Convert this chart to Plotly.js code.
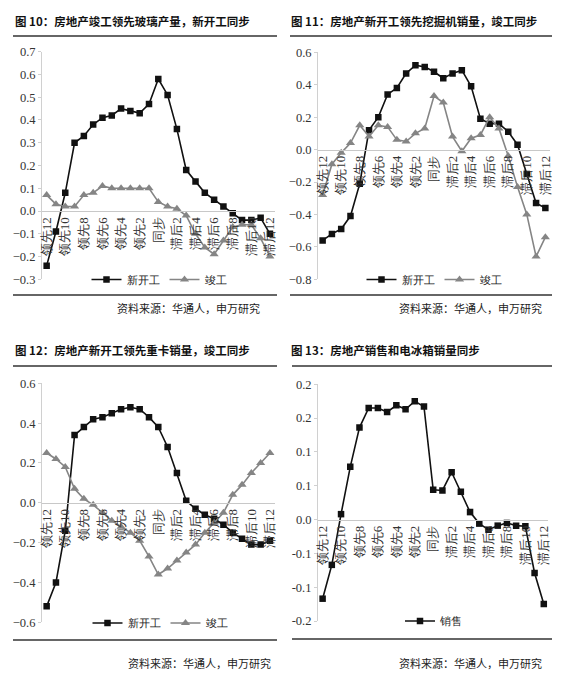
<!DOCTYPE html>
<html>
<head>
<meta charset="utf-8">
<script src="https://cdn.plot.ly/plotly-3.0.1.min.js"></script>
<style>html,body{margin:0;padding:0;background:#fff;}#chart{width:563px;height:686px;}</style>
</head>
<body>
<div id="chart"></div>
<script>
// ---------- data ----------
const categories = ['领先12','领先11','领先10','领先9','领先8','领先7','领先6','领先5','领先4','领先3','领先2','领先1',
  '同步','滞后1','滞后2','滞后3','滞后4','滞后5','滞后6','滞后7','滞后8','滞后9','滞后10','滞后11','滞后12'];

const titles = [
  '图 10：房地产竣工领先玻璃产量，新开工同步',
  '图 11：房地产新开工领先挖掘机销量，竣工同步',
  '图 12：房地产新开工领先重卡销量，竣工同步',
  '图 13：房地产销售和电冰箱销量同步'
];
const sourceText = '资料来源：华通人，申万研究';
const seriesNames = ['新开工', '竣工', '销售'];

// 图10
const glassStart = [-0.24,-0.09,0.08,0.30,0.33,0.38,0.41,0.42,0.45,0.44,0.43,0.47,0.58,0.51,0.36,0.18,0.13,0.08,0.05,0.02,-0.01,-0.04,-0.04,-0.03,-0.10];
const glassDone  = [0.07,0.03,0.02,0.02,0.07,0.08,0.11,0.10,0.10,0.10,0.10,0.10,0.04,0.02,0.01,-0.02,-0.10,-0.16,-0.19,-0.13,-0.07,-0.06,-0.06,-0.12,-0.20];
// 图11
const excStart = [-0.56,-0.52,-0.49,-0.41,-0.21,0.12,0.20,0.34,0.38,0.47,0.52,0.51,0.48,0.44,0.47,0.49,0.39,0.19,0.16,0.16,0.11,0.03,-0.15,-0.33,-0.36];
const excDone  = [-0.28,-0.09,-0.02,0.04,0.15,0.08,0.15,0.14,0.06,0.05,0.10,0.13,0.33,0.29,0.08,-0.01,0.07,0.09,0.20,0.13,-0.04,-0.23,-0.40,-0.66,-0.54];
// 图12
const truckStart = [-0.52,-0.40,-0.14,0.34,0.38,0.42,0.43,0.45,0.47,0.48,0.47,0.43,0.38,0.28,0.15,0.01,-0.03,-0.06,-0.08,-0.11,-0.15,-0.18,-0.21,-0.21,-0.19];
const truckDone  = [0.25,0.22,0.18,0.07,0.02,-0.01,-0.05,-0.09,-0.12,-0.15,-0.19,-0.27,-0.36,-0.33,-0.29,-0.25,-0.21,-0.15,-0.10,-0.05,0.04,0.09,0.15,0.20,0.25];
// 图13
const fridgeSales = [-0.117,-0.067,0.008,0.078,0.136,0.165,0.165,0.159,0.169,0.163,0.175,0.167,0.044,0.043,0.070,0.041,0.011,-0.006,-0.015,-0.009,-0.005,-0.009,-0.010,-0.079,-0.125];

// y tick labels of 图13 as printed
const p4TickVals = [-0.15,-0.10,-0.05,0,0.05,0.10,0.15,0.20];
const p4TickText = ['-0.2','-0.1','-0.1','0.0','0.1','0.1','0.2','0.2'];

// ---------- layout helpers ----------
const W = 563, H = 686;
const px = v => v / W;
const py = v => 1 - v / H;

const panels = [
  {xd:[42,274.6], yd:[279.3,51.7], range:[-0.3,0.7], dtick:0.1, legend:[159,279.5], title:[13,20.5], top:[13,277,36], bot:[13,277,295], src:[262,308]},
  {xd:[318,550],  yd:[279.3,52.3], range:[-0.8,0.6], dtick:0.2, legend:[434,279.5], title:[289,20.5], top:[290,552,36], bot:[290,552,295], src:[544,308]},
  {xd:[42,274.6], yd:[622.3,383.3], range:[-0.6,0.6], dtick:0.2, legend:[160,623], title:[13,350], top:[13,277,366], bot:[13,277,640], src:[273,663]},
  {xd:[318,548.4], yd:[621,384.3], range:[-0.15,0.2], dtick:null, legend:[434,621], title:[289,350], top:[292,552,366], bot:[292,552,639], src:[544,663]}
];

const serif = 'Liberation Serif';
const cjk = 'Noto Sans CJK SC';

const layout = {
  width: W, height: H,
  margin: {l:0, r:0, t:0, b:0},
  paper_bgcolor: '#fff', plot_bgcolor: 'rgba(0,0,0,0)',
  showlegend: true,
  annotations: [], shapes: []
};

panels.forEach((p, i) => {
  const n = i === 0 ? '' : String(i + 1);
  const xdom = [px(p.xd[0]), px(p.xd[1])];
  const ydom = [py(p.yd[0]), py(p.yd[1])];
  const zeroPos = ydom[0] + (0 - p.range[0]) / (p.range[1] - p.range[0]) * (ydom[1] - ydom[0]);
  layout['xaxis' + n] = {
    type: 'category', domain: xdom, anchor: 'free', position: zeroPos,
    range: [-0.5, 24.5], tickmode: 'linear', tick0: 0, dtick: 2,
    tickangle: -90, showline: true, linecolor: '#c8c8c8', linewidth: 1,
    showgrid: false, zeroline: false, ticks: '',
    tickfont: {family: serif, size: 13, color: '#333'}
  };
  const ya = {
    domain: ydom, anchor: 'x' + n, range: p.range,
    showline: true, linecolor: '#d0d0d0', linewidth: 1,
    showgrid: false, zeroline: false, ticks: 'outside', ticklen: 3, tickcolor: '#d0d0d0',
    tickfont: {family: serif, size: 12.5, color: '#333'}
  };
  if (p.dtick) { ya.tickmode = 'linear'; ya.tick0 = 0; ya.dtick = p.dtick; ya.tickformat = '.1f'; }
  else { ya.tickmode = 'array'; ya.tickvals = p4TickVals; ya.ticktext = p4TickText; }
  layout['yaxis' + n] = ya;

  layout['legend' + n] = {
    x: px(p.legend[0]), y: py(p.legend[1]), xanchor: 'center', yanchor: 'middle',
    orientation: 'h', bgcolor: 'rgba(0,0,0,0)', itemwidth: 30,
    font: {family: serif, size: 11, color: '#222'}, tracegroupgap: 0
  };

  layout.annotations.push({
    xref: 'paper', yref: 'paper', x: px(p.title[0]), y: py(p.title[1]),
    xanchor: 'left', yanchor: 'middle', showarrow: false, text: '<b>' + titles[i] + '</b>',
    font: {family: cjk, size: 11.5, color: '#111'}
  });
  layout.annotations.push({
    xref: 'paper', yref: 'paper', x: px(p.src[0]), y: py(p.src[1]),
    xanchor: 'right', yanchor: 'middle', showarrow: false, text: sourceText,
    font: {family: cjk, size: 11, color: '#222'}
  });
  [p.top, p.bot].forEach(l => layout.shapes.push({
    type: 'line', xref: 'paper', yref: 'paper',
    x0: px(l[0]), x1: px(l[1]), y0: py(l[2]), y1: py(l[2]),
    line: {color: '#333', width: 1.6}
  }));
});

const black = (y, i, name) => ({
  x: categories, y: y, name: name, type: 'scatter', mode: 'lines+markers',
  xaxis: 'x' + (i ? i + 1 : ''), yaxis: 'y' + (i ? i + 1 : ''), legend: 'legend' + (i ? i + 1 : ''),
  line: {color: '#111', width: 1.6}, marker: {symbol: 'square', size: 6.5, color: '#111'}
});
const gray = (y, i, name) => ({
  x: categories, y: y, name: name, type: 'scatter', mode: 'lines+markers',
  xaxis: 'x' + (i ? i + 1 : ''), yaxis: 'y' + (i ? i + 1 : ''), legend: 'legend' + (i ? i + 1 : ''),
  line: {color: '#858585', width: 1.6}, marker: {symbol: 'triangle-up', size: 8, color: '#858585'}
});

const data = [
  black(glassStart, 0, seriesNames[0]), gray(glassDone, 0, seriesNames[1]),
  black(excStart, 1, seriesNames[0]), gray(excDone, 1, seriesNames[1]),
  black(truckStart, 2, seriesNames[0]), gray(truckDone, 2, seriesNames[1]),
  black(fridgeSales, 3, seriesNames[2])
];

Plotly.newPlot('chart', data, layout, {displayModeBar: false, staticPlot: true});
</script>
</body>
</html>
